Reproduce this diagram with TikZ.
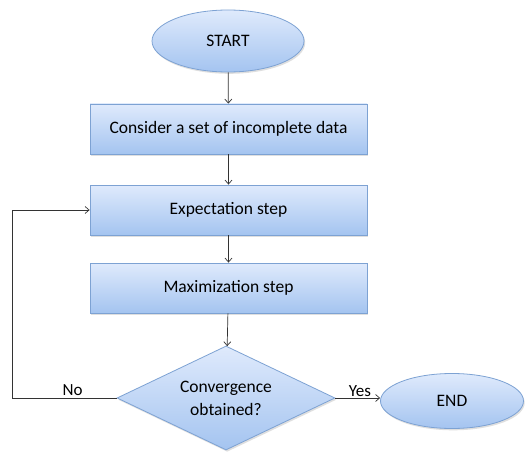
\documentclass[tikz,border=0pt]{standalone}
\usepackage{fontspec}
\setmainfont{Carlito}
\usetikzlibrary{shapes.geometric,arrows.meta,shadows}
\definecolor{edgeblue}{HTML}{7DA2D3}
\definecolor{topblue}{HTML}{DFEAFC}
\definecolor{botblue}{HTML}{A4C4F0}
\begin{document}
\begin{tikzpicture}[x=1pt,y=-1pt,
  font=\fontsize{17.5}{20}\selectfont,
  shape base/.style={draw=edgeblue, line width=0.8pt, top color=topblue, bottom color=botblue,
    drop shadow={shadow xshift=1.2pt, shadow yshift=-1.8pt, opacity=0.25}},
  terminal/.style={shape base, ellipse, inner sep=0pt},
  stepbox/.style={shape base, rectangle, minimum width=277pt, minimum height=50pt, inner sep=0pt},
  decision/.style={shape base, diamond, shape aspect=2.1, minimum width=218pt, minimum height=104pt, inner sep=0pt, align=center},
  flow/.style={draw=black!80, line width=0.7pt, -{Straight Barb[length=4pt,width=7pt]}},
  lbl/.style={font=\fontsize{17}{20}\selectfont}]
\useasboundingbox (0,0) rectangle (528,452);
\fill[white] (0,0) rectangle (528,452);

\node[terminal, minimum width=152pt, minimum height=62pt] (start) at (228,41) {START};
\node[stepbox] (data) at (228.5,129) {Consider a set of incomplete data};
\node[stepbox] (exp) at (228.5,210) {Expectation step};
\node[stepbox] (max) at (228.5,288) {Maximization step};
\node[decision] (conv) at (226,398) {Convergence\\[3pt]obtained?};
\node[terminal, minimum width=143pt, minimum height=55pt] (end) at (452,401) {END};

\coordinate (loop) at (12,398);

\draw[flow] (start) -- (data);
\draw[flow] (data) -- (exp);
\draw[flow] (exp) -- (max);
\draw[flow] (max) -- (conv);
\draw[flow] (conv.east) -- node[lbl, above, pos=0.55, inner sep=1.5pt] {Yes} (end.west |- conv.east);
\draw[flow] (conv.west) -- node[lbl, above, pos=0.42, inner sep=2pt] {No} (loop) |- (exp.west);
\end{tikzpicture}
\end{document}
